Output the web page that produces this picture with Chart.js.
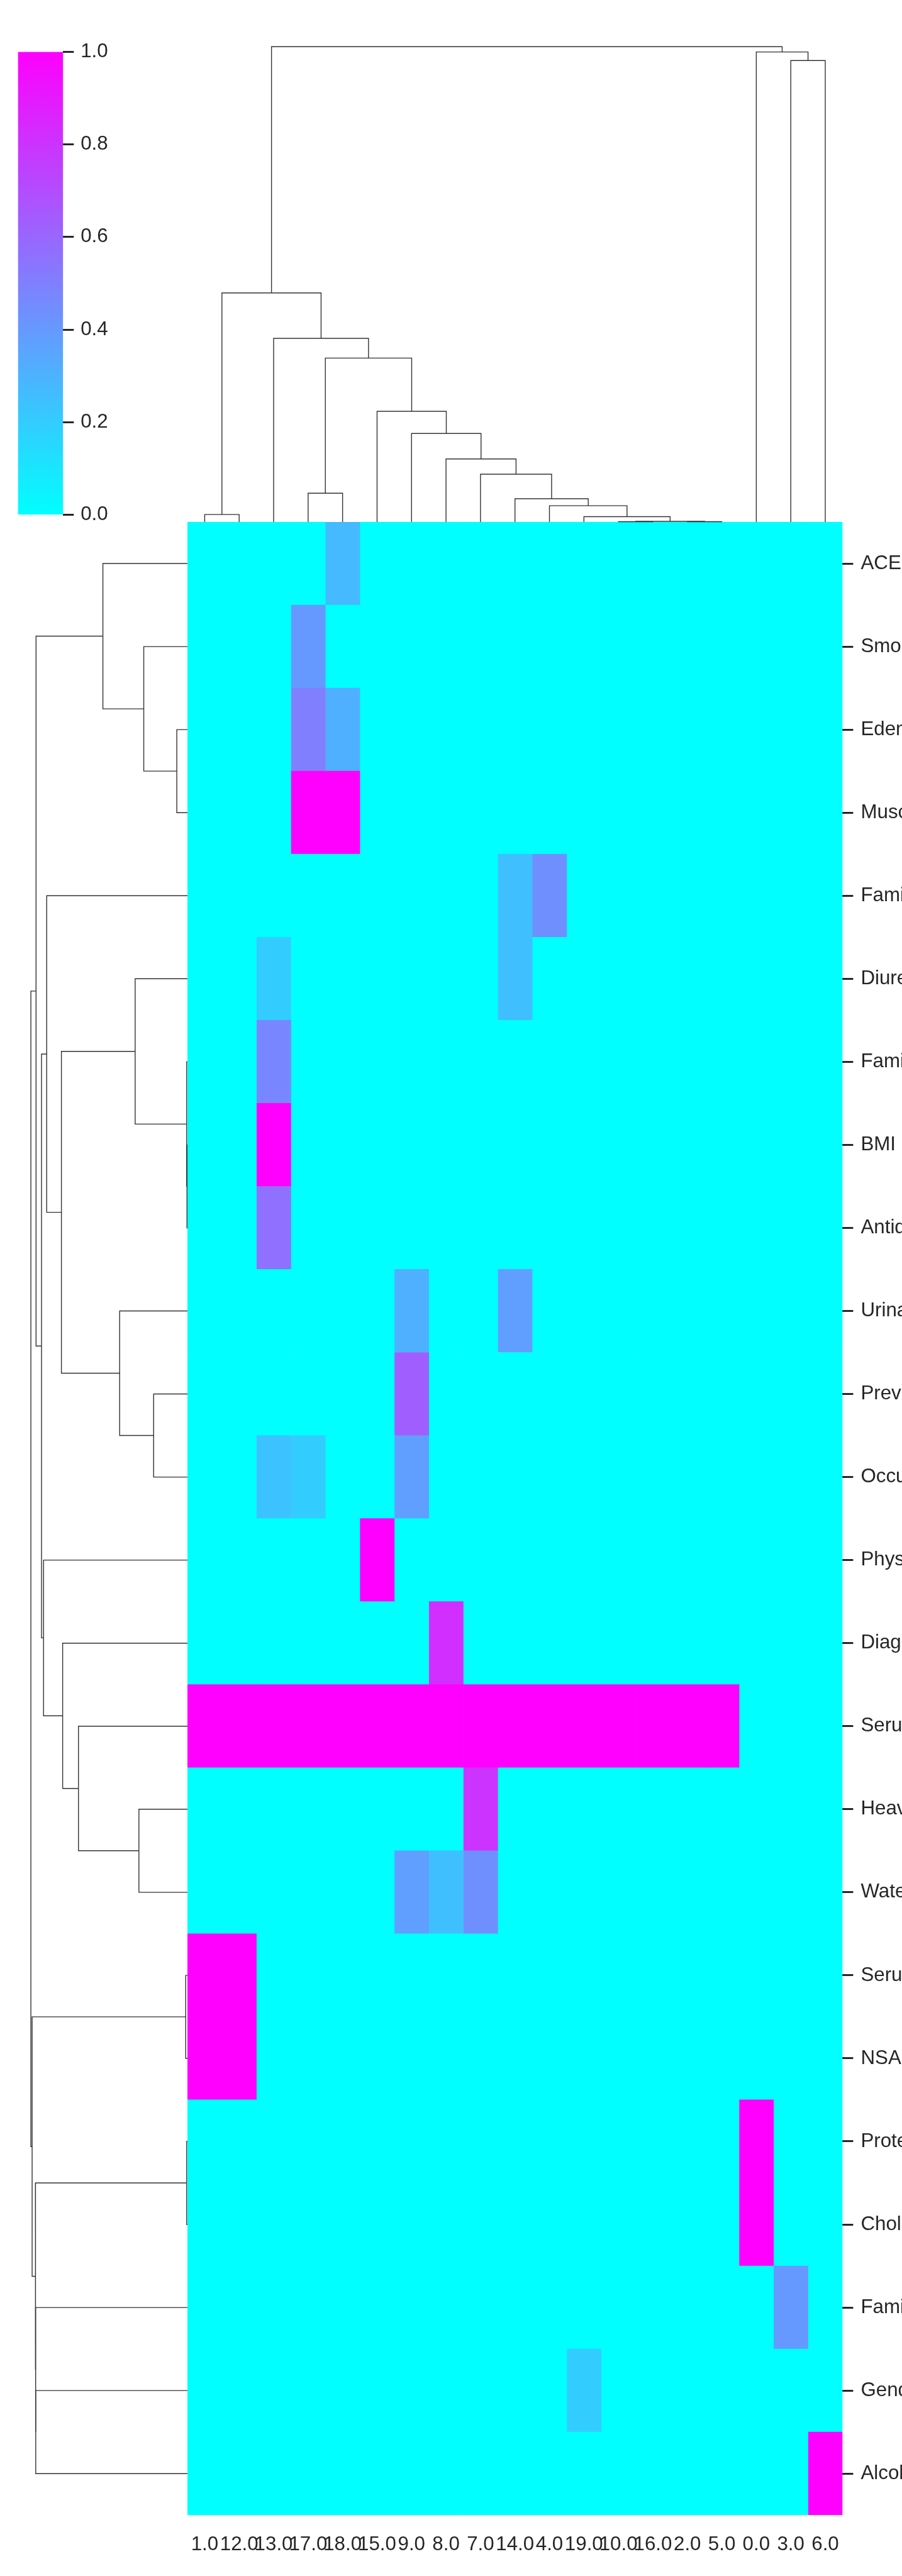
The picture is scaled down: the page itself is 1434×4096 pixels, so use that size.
<!DOCTYPE html>
<html>
<head>
<meta charset="utf-8">
<script src="https://cdn.jsdelivr.net/npm/chart.js@4.4.1/dist/chart.umd.min.js"></script>
<style>
html, body { margin: 0; padding: 0; background: #ffffff; width: 1434px; height: 4096px; overflow: hidden; }
canvas { position: absolute; display: block; }
</style>
</head>
<body>
<canvas id="heat" width="1156" height="3306" style="left:278px;top:790px;width:1156px;height:3306px"></canvas>
<canvas id="coldendro" width="1052" height="804" style="left:293px;top:31px;width:1052px;height:804px"></canvas>
<canvas id="rowdendro" width="272" height="3180" style="left:31px;top:825px;width:272px;height:3180px"></canvas>
<canvas id="cbar" width="260" height="860" style="left:0px;top:0px;width:260px;height:860px"></canvas>
<script>
// ---------------- data ----------------
const colLabels = ['1.0','12.0','13.0','17.0','18.0','15.0','9.0','8.0','7.0','14.0','4.0','19.0','10.0','16.0','2.0','5.0','0.0','3.0','6.0'];
const rowLabels = ['ACE','Smo','Edem','Musc','Fami','Diure','Fami','BMI','Antid','Urina','Prev','Occu','Phys','Diag','Seru','Heav','Wate','Seru','NSAI','Prote','Chol','Fami','Gend','Alcoh'];

// heat values, one row per row label, one entry per column label
const heatValues = [
  [0,0,0,0,0.27,0,0,0,0,0,0,0,0,0,0,0,0,0,0],
  [0,0,0,0.40,0,0,0,0,0,0,0,0,0,0,0,0,0,0,0],
  [0,0,0,0.50,0.31,0,0,0,0,0,0,0,0,0,0,0,0,0,0],
  [0,0,0,1,1,0,0,0,0,0,0,0,0,0,0,0,0,0,0],
  [0,0,0,0,0,0,0,0,0,0.25,0.44,0,0,0,0,0,0,0,0],
  [0,0,0.20,0,0,0,0,0,0,0.25,0,0,0,0,0,0,0,0,0],
  [0,0,0.47,0,0,0,0,0,0,0,0,0,0,0,0,0,0,0,0],
  [0,0,1,0,0,0,0,0,0,0,0,0,0,0,0,0,0,0,0],
  [0,0,0.56,0,0,0,0,0,0,0,0,0,0,0,0,0,0,0,0],
  [0,0,0,0,0,0,0.31,0,0,0.375,0,0,0,0,0,0,0,0,0],
  [0,0,0,0,0,0,0.63,0,0,0,0,0,0,0,0,0,0,0,0],
  [0,0,0.235,0.20,0,0,0.375,0,0,0,0,0,0,0,0,0,0,0,0],
  [0,0,0,0,0,1,0,0,0,0,0,0,0,0,0,0,0,0,0],
  [0,0,0,0,0,0,0,0.82,0,0,0,0,0,0,0,0,0,0,0],
  [1,1,1,1,1,1,1,1,1,1,1,1,1,1,1,1,0,0,0],
  [0,0,0,0,0,0,0,0,0.80,0,0,0,0,0,0,0,0,0,0],
  [0,0,0,0,0,0,0.375,0.25,0.44,0,0,0,0,0,0,0,0,0,0],
  [1,1,0,0,0,0,0,0,0,0,0,0,0,0,0,0,0,0,0],
  [1,1,0,0,0,0,0,0,0,0,0,0,0,0,0,0,0,0,0],
  [0,0,0,0,0,0,0,0,0,0,0,0,0,0,0,0,1,0,0],
  [0,0,0,0,0,0,0,0,0,0,0,0,0,0,0,0,1,0,0],
  [0,0,0,0,0,0,0,0,0,0,0,0,0,0,0,0,0,0.40,0],
  [0,0,0,0,0,0,0,0,0,0,0,0.20,0,0,0,0,0,0,0],
  [0,0,0,0,0,0,0,0,0,0,0,0,0,0,0,0,0,0,1]
];

// column dendrogram linkage (leaves 0..18 in display order, clusters 19+)
const colLinkLeft   = [12, 14, 19, 11, 10,  9,  8,  7,  6,  5,  3, 29,  2,  0, 32, 17, 16, 33];
const colLinkRight  = [13, 15, 20, 21, 22, 23, 24, 25, 26, 27,  4, 28, 30,  1, 31, 18, 34, 35];
const colLinkHeight = [0.0007, 0.0007, 0.0014, 0.0112, 0.0343, 0.0490, 0.1005, 0.1326, 0.1863, 0.2329, 0.0606, 0.3449, 0.3864, 0.0157, 0.482, 0.971, 0.989, 1.0];

// row dendrogram linkage (leaves 0..23 in display order, clusters 24+)
const rowLinkLeft   = [2, 1, 0, 7, 6, 5, 10, 9, 29, 4, 15, 14, 13, 12, 33, 26, 17, 19, 22, 21, 41, 40, 39];
const rowLinkRight  = [3, 24, 25, 8, 27, 28, 11, 30, 31, 32, 16, 34, 35, 36, 37, 38, 18, 20, 23, 42, 43, 44, 45];
const rowLinkHeight = [0.068, 0.279, 0.540, 0.003, 0.005, 0.334, 0.216, 0.433, 0.805, 0.899, 0.310, 0.696, 0.797, 0.919, 0.932, 0.967, 0.011, 0.005, 0.969, 0.970, 0.971, 0.992, 1.0];

// colour bar
const cbarTicks = [0, 0.2, 0.4, 0.6, 0.8, 1.0];
const cbarRange = [0, 1];

// ---------------- styling / helpers ----------------
const FONT = { family: "'Liberation Sans', Arial, sans-serif", size: 31.3 };
const TXT = '#262626';
const LINE = '#333333';
Chart.defaults.font.family = FONT.family;

function cool(v) {
  return 'rgb(' + Math.round(255 * v) + ',' + Math.round(255 * (1 - v)) + ',255)';
}

function buildLinks(nLeaves, L, R, H) {
  const pos = [], ht = [];
  for (let i = 0; i < nLeaves; i++) { pos.push(i + 0.5); ht.push(0); }
  const segs = [];
  for (let k = 0; k < L.length; k++) {
    const a = L[k], b = R[k], h = H[k];
    segs.push([[pos[a], ht[a]], [pos[a], h], [pos[b], h], [pos[b], ht[b]]]);
    pos.push((pos[a] + pos[b]) / 2);
    ht.push(h);
  }
  return segs;
}

// ---------------- heatmap ----------------
// canvas starts 20px left / 40px above the cell area; right axis + bottom axis sizes fixed
const padL = 20, padT = 40;
const heatW = 1156, heatH = 3306, plotW = 1041.4, plotH = 3169.2;
new Chart(document.getElementById('heat'), {
  type: 'bar',
  data: {
    labels: rowLabels,
    datasets: colLabels.map((c, j) => ({
      label: c,
      data: rowLabels.map(() => [j, j + 1]),
      backgroundColor: rowLabels.map((_, i) => cool(heatValues[i][j])),
      borderWidth: 0,
      grouped: false,
      barPercentage: 1,
      categoryPercentage: 1
    }))
  },
  options: {
    indexAxis: 'y',
    responsive: false,
    animation: false,
    layout: { padding: { left: padL, top: padT, right: 0, bottom: 0 } },
    plugins: { legend: { display: false }, tooltip: { enabled: false } },
    scales: {
      x: {
        type: 'linear', position: 'bottom', min: 0, max: colLabels.length,
        afterBuildTicks: s => { s.ticks = colLabels.map((_, j) => ({ value: j + 0.5 })); },
        ticks: { callback: (v, i) => colLabels[i], font: FONT, color: TXT, padding: 20, maxRotation: 0, minRotation: 0, autoSkip: false },
        grid: { display: false },
        border: { display: false },
        afterFit: s => { s.height = heatH - padT - plotH; }
      },
      y: {
        type: 'category', position: 'right', offset: true,
        ticks: { font: FONT, color: TXT, padding: 12, autoSkip: false },
        grid: { display: true, drawOnChartArea: false, offset: false, tickLength: 17, tickWidth: 3, tickColor: TXT, color: TXT },
        border: { display: false },
        afterFit: s => { s.width = heatW - padL - plotW; }
      }
    }
  }
});

// ---------------- column dendrogram ----------------
const colSegs = buildLinks(colLabels.length, colLinkLeft, colLinkRight, colLinkHeight);
new Chart(document.getElementById('coldendro'), {
  type: 'scatter',
  data: {
    datasets: colSegs.map(s => ({
      data: s.map(p => ({ x: p[0], y: p[1] })),
      showLine: true, borderColor: LINE, borderWidth: 1.4, pointRadius: 0, fill: false, clip: false, tension: 0
    }))
  },
  options: {
    responsive: false, animation: false,
    layout: { padding: { left: 5, right: 5.6, top: 5.5, bottom: 5 } },
    plugins: { legend: { display: false }, tooltip: { enabled: false } },
    scales: {
      x: { type: 'linear', min: 0, max: colLabels.length, display: false },
      y: { type: 'linear', min: 0, max: 1.05, display: false }
    }
  }
});

// ---------------- row dendrogram ----------------
const rowSegs = buildLinks(rowLabels.length, rowLinkLeft, rowLinkRight, rowLinkHeight);
new Chart(document.getElementById('rowdendro'), {
  type: 'scatter',
  data: {
    datasets: rowSegs.map(s => ({
      data: s.map(p => ({ x: p[1], y: p[0] })),
      showLine: true, borderColor: LINE, borderWidth: 1.4, pointRadius: 0, fill: false, clip: false, tension: 0
    }))
  },
  options: {
    responsive: false, animation: false,
    layout: { padding: { left: 5.65, right: 5, top: 5, bottom: 5.8 } },
    plugins: { legend: { display: false }, tooltip: { enabled: false } },
    scales: {
      x: { type: 'linear', min: 0, max: 1.05, reverse: true, display: false },
      y: { type: 'linear', min: 0, max: rowLabels.length, reverse: true, display: false }
    }
  }
});

// ---------------- colour bar ----------------
new Chart(document.getElementById('cbar'), {
  type: 'bar',
  data: {
    labels: [''],
    datasets: [{
      data: [cbarRange],
      backgroundColor: ctx => {
        const ch = ctx.chart, ys = ch.scales.y;
        if (!ch.chartArea || !ys) return cool(0);
        const g = ch.ctx.createLinearGradient(0, ys.getPixelForValue(cbarRange[0]), 0, ys.getPixelForValue(cbarRange[1]));
        g.addColorStop(0, cool(cbarRange[0]));
        g.addColorStop(1, cool(cbarRange[1]));
        return g;
      },
      borderWidth: 0, barPercentage: 1, categoryPercentage: 1
    }]
  },
  options: {
    responsive: false, animation: false,
    layout: { padding: { left: 28.6, right: 0, top: 82.5, bottom: 41.6 } },
    plugins: { legend: { display: false }, tooltip: { enabled: false } },
    scales: {
      x: { display: false },
      y: {
        position: 'right', min: cbarRange[0], max: cbarRange[1],
        afterBuildTicks: s => { s.ticks = cbarTicks.map(v => ({ value: v })); },
        ticks: { callback: v => Number(v).toFixed(1), font: FONT, color: TXT, padding: 10.9 },
        grid: { display: true, drawOnChartArea: false, tickLength: 17, tickWidth: 3, tickColor: TXT },
        border: { display: false },
        afterFit: s => { s.width = 260 - 100.3; }
      }
    }
  }
});
</script>
</body>
</html>
